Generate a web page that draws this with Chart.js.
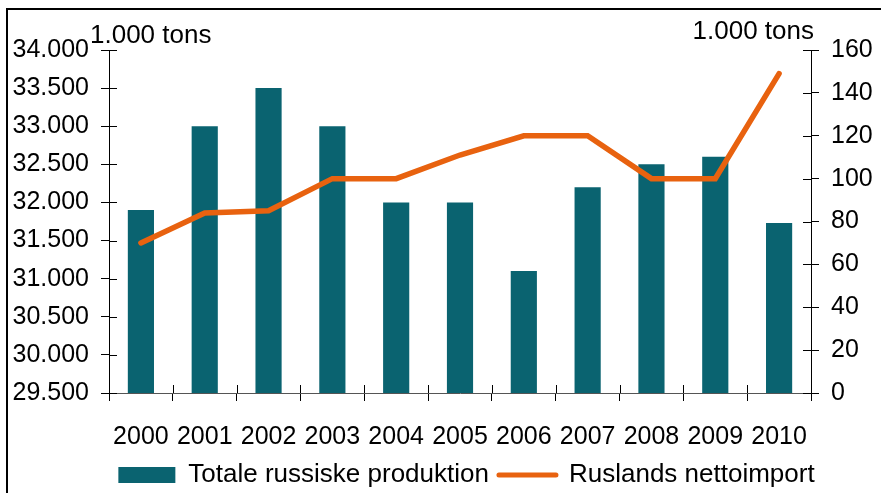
<!DOCTYPE html>
<html>
<head>
<meta charset="utf-8">
<script src="https://cdn.jsdelivr.net/npm/chart.js@4/dist/chart.umd.min.js"></script>
<style>
  html, body { margin: 0; padding: 0; background: #fff; overflow: hidden; }
  #wrap { position: relative; width: 881px; height: 493px; }
  #frame { position: absolute; left: 6px; top: 8px; width: 900px; height: 500px;
           border-left: 2px solid #000; border-top: 2px solid #000; pointer-events: none; }
  canvas { position: absolute; left: 0; top: 0; }
</style>
</head>
<body>
<div id="wrap">
  <canvas id="c" width="881" height="493"></canvas>
  <div id="frame"></div>
</div>
<script>
const years = ['2000','2001','2002','2003','2004','2005','2006','2007','2008','2009','2010'];
const production = [31900, 33000, 33500, 33000, 32000, 32000, 31100, 32200, 32500, 32600, 31730];
const netImport = [70, 84, 85, 100, 100, 111, 120, 120, 100, 100, 149];
const seriesNames = ['Totale russiske produktion', 'Ruslands nettoimport'];
const unitLabel = '1.000 tons';

const FONT = "'Liberation Sans', Arial, sans-serif";
const TEAL = '#0A6370';
const ORANGE = '#E8620F';

const extras = {
  id: 'extras',
  afterLayout(chart) {
    const lg = chart.legend;
    if (lg) { lg.left += 52; lg.top += 5; lg.bottom += 5; }
  },
  afterDraw(chart) {
    const ctx = chart.ctx;
    ctx.save();
    ctx.strokeStyle = '#000';
    ctx.lineWidth = 1;
    const yl = chart.scales.y, yr = chart.scales.y1, x = chart.scales.x;
    yl.ticks.forEach((t, i) => {
      const py = Math.round(yl.getPixelForTick(i)) + 0.5;
      ctx.beginPath(); ctx.moveTo(yl.right, py); ctx.lineTo(yl.right + 8, py); ctx.stroke();
    });
    yr.ticks.forEach((t, i) => {
      const py = Math.round(yr.getPixelForTick(i)) + 0.5;
      ctx.beginPath(); ctx.moveTo(yr.left - 8, py); ctx.lineTo(yr.left, py); ctx.stroke();
    });
    const n = x.ticks.length;
    for (let i = 0; i <= n; i++) {
      const px = Math.round(x.getPixelForValue(i - 0.5)) + 0.5;
      ctx.beginPath(); ctx.moveTo(px, x.top - 8); ctx.lineTo(px, x.top); ctx.stroke();
    }
    ctx.fillStyle = '#000';
    ctx.font = '26px ' + FONT;
    ctx.textBaseline = 'alphabetic';
    ctx.textAlign = 'left';
    ctx.fillText(unitLabel, 90, 43);
    ctx.textAlign = 'right';
    ctx.fillText(unitLabel, 814, 39);
    ctx.restore();
  }
};

new Chart(document.getElementById('c'), {
  type: 'bar',
  data: {
    labels: years,
    datasets: [
      {
        type: 'bar',
        label: seriesNames[0],
        data: production,
        yAxisID: 'y',
        backgroundColor: TEAL,
        borderWidth: 0,
        barPercentage: 1,
        categoryPercentage: 0.41,
        order: 1
      },
      {
        type: 'line',
        label: seriesNames[1],
        data: netImport,
        yAxisID: 'y1',
        borderColor: ORANGE,
        backgroundColor: ORANGE,
        borderWidth: 5.5,
        borderCapStyle: 'round',
        borderJoinStyle: 'miter',
        pointRadius: 0,
        tension: 0,
        fill: false,
        order: 0
      }
    ]
  },
  options: {
    responsive: false,
    animation: false,
    events: [],
    layout: { padding: { top: 50, left: 0, right: 0, bottom: 0 } },
    plugins: {
      tooltip: { enabled: false },
      legend: {
        position: 'bottom',
        labels: {
          sort: (a, b) => a.datasetIndex - b.datasetIndex,
          font: { family: FONT, size: 26 },
          color: '#000',
          padding: 10,
          usePointStyle: true,
          pointStyleWidth: 57,
          boxHeight: 16,
          generateLabels(chart) {
            return chart.data.datasets.map((ds, i) => ({
              text: ds.label,
              datasetIndex: i,
              fillStyle: ds.backgroundColor,
              strokeStyle: ds.type === 'line' ? ds.borderColor : ds.backgroundColor,
              lineWidth: ds.type === 'line' ? 5 : 0,
              lineCap: 'round',
              hidden: false,
              pointStyle: ds.type === 'line' ? 'line' : 'rect',
              fontColor: '#000'
            }));
          }
        }
      }
    },
    scales: {
      x: {
        grid: { drawOnChartArea: false, drawTicks: true, tickLength: 8, color: '#000', offset: true },
        border: { display: true, color: '#555', width: 1 },
        ticks: { font: { family: FONT, size: 25 }, color: '#000', padding: 21, maxRotation: 0, autoSkip: false },
        afterFit(s) { s.height = 54; }
      },
      y: {
        position: 'left',
        min: 29500,
        max: 34000,
        grid: { drawOnChartArea: false, drawTicks: true, tickLength: 8, color: '#000' },
        border: { display: true, color: '#000', width: 1 },
        ticks: {
          stepSize: 500,
          font: { family: FONT, size: 25 },
          color: '#000',
          padding: 12,
          callback: v => (v / 1000).toFixed(3)
        },
        afterFit(s) { s.width = 109; }
      },
      y1: {
        position: 'right',
        min: 0,
        max: 160,
        grid: { drawOnChartArea: false, drawTicks: true, tickLength: 8, color: '#000' },
        border: { display: true, color: '#000', width: 1 },
        ticks: { stepSize: 20, font: { family: FONT, size: 25 }, color: '#000', padding: 12 },
        afterFit(s) { s.width = 70; }
      }
    }
  },
  plugins: [extras]
});
</script>
</body>
</html>
